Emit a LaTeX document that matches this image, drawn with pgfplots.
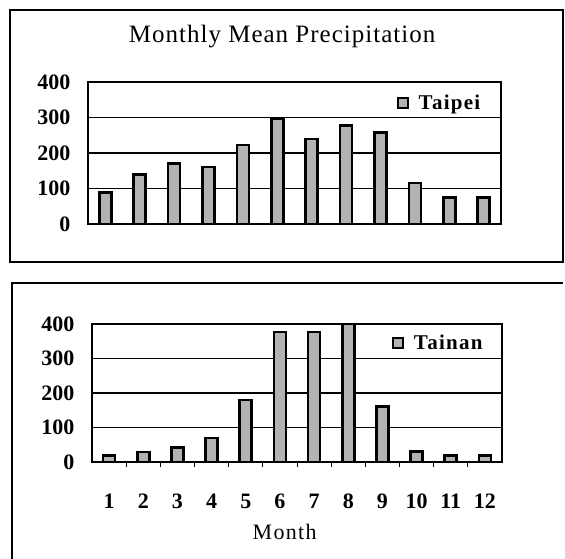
\documentclass[border=0pt]{standalone}
\usepackage{fontspec}
\setmainfont{Liberation Serif}
\usepackage{pgfplots}
\usepackage{pgfplotstable}
\pgfplotsset{compat=1.18}
\definecolor{barfill}{gray}{0.7}

\pgfplotstableread{
m v
1 88
2 140
3 171
4 161
5 222
6 296
7 239
8 277
9 257
10 116
11 74
12 74
}\taipei

\pgfplotstableread{
m v
1 19
2 29
3 42
4 70
5 180
6 377
7 377
8 400
9 161
10 31
11 19
12 19
}\tainan

\pgfplotsset{precip/.style={
  scale only axis, ybar, bar width=12pt,
  xmin=0.5, xmax=12.5, ymin=0, ymax=400,
  ytick={0,100,200,300,400},
  ymajorgrids, major grid style={black, line width=1.3pt},
  axis line style={black, line width=1.3pt},
  /pgf/number format/assume math mode=true,
  tick label style={font=\fontsize{22}{24}\selectfont\bfseries},
  ytick style={draw=none},
  ytick pos=left,
  yticklabel style={anchor=east, xshift=-14pt},
  legend style={draw=none, fill=none, anchor=west,
    font=\fontsize{21}{24}\selectfont\bfseries\addfontfeature{LetterSpace=6}, inner sep=0pt,
    /tikz/every odd column/.append style={column sep=8pt}},
  legend image code/.code={\draw[fill=barfill, draw=black, line width=1.6pt] (0pt,-5pt) rectangle (10pt,5pt);},
  cycle list={{fill=barfill, draw=black, line width=2.6pt}},
}}

\begin{document}
\begin{tikzpicture}
\path[use as bounding box] (0pt,0pt) rectangle (565pt,-559pt);
\draw[line width=2pt] (10pt,-10pt) rectangle (563pt,-262pt);
\draw[line width=2pt] (12pt,-559pt) -- (12pt,-283pt) -- (563pt,-283pt);

\begin{axis}[precip,
  at={(88pt,-224pt)}, anchor=south west,
  width=413pt, height=142pt,
  xtick=\empty,
  title={Monthly Mean Precipitation},
  title style={font=\fontsize{25}{28}\selectfont\addfontfeature{LetterSpace=4}, at={(0.47,1)}, anchor=center, yshift=39pt},
  legend style={at={(0.748,0.852)}},
]
\addplot[fill=barfill, draw=black, line width=2.6pt] table[x=m, y=v] {\taipei};
\addlegendentry{Taipei}
\end{axis}

\begin{axis}[precip,
  at={(92pt,-462pt)}, anchor=south west,
  width=410pt, height=138pt,
  xtick={1,...,12},
  xtick pos=bottom,
  major x tick style={draw=none},
  minor x tick num=1,
  minor tick length=5pt,
  minor x tick style={black, line width=1pt},
  xticklabel style={anchor=center, yshift=-35pt},
  xlabel={Month},
  xlabel style={font=\fontsize{22}{24}\selectfont\addfontfeature{LetterSpace=6}, at={(0.47,-0.507)}, anchor=center},
  legend style={at={(0.732,0.862)}},
]
\addplot[fill=barfill, draw=black, line width=2.6pt] table[x=m, y=v] {\tainan};
\addlegendentry{Tainan}
\end{axis}
\end{tikzpicture}
\end{document}
